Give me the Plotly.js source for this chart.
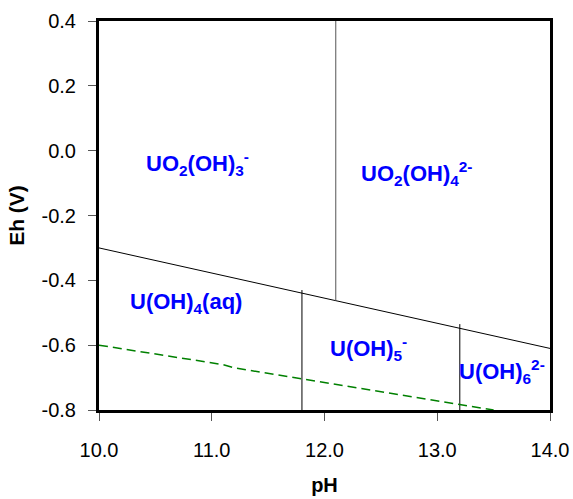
<!DOCTYPE html>
<html>
<head>
<meta charset="utf-8">
<script src="https://cdn.plot.ly/plotly-3.0.1.min.js"></script>
<style>html,body{margin:0;padding:0;background:#fff;}#chart{width:573px;height:499px;}</style>
</head>
<body>
<div id="chart"></div>
<script>
// Boundary between U(VI) and U(IV) species
const pHBoundary = [10, 11.8, 12.1, 13.2, 14];
const ehBoundary = [-0.30, -0.44, -0.463, -0.547, -0.61];
// Vertical boundaries
const pHVertA = [12.1, 12.1];
const ehVertA = [0.4, -0.463];
const pHVertB = [11.8, 11.8];
const ehVertB = [-0.43, -0.8];
const pHVertC = [13.2, 13.2];
const ehVertC = [-0.535, -0.8];
// Water stability (lower) line
const pHWater = [10, 11.1, 11.2, 13.5];
const ehWater = [-0.60, -0.66, -0.67, -0.80];
// Tick labels
const xTickVals = [10, 11, 12, 13, 14];
const xTickText = ['10.0', '11.0', '12.0', '13.0', '14.0'];
const yTickVals = [0.4, 0.2, 0.0, -0.2, -0.4, -0.6, -0.8];
const yTickText = ['0.4', '0.2', '0.0', '-0.2', '-0.4', '-0.6', '-0.8'];
// Species labels
const speciesLabels = [
  'UO<sub>2</sub>(OH)<sub>3</sub><sup>-</sup>',
  'UO<sub>2</sub>(OH)<sub>4</sub><sup>2-</sup>',
  'U(OH)<sub>4</sub>(aq)',
  'U(OH)<sub>5</sub><sup>-</sup>',
  'U(OH)<sub>6</sub><sup>2-</sup>'
];

const FONT = 'Liberation Sans, Arial, sans-serif';
const thin = {color: '#000', width: 1};

const traces = [
  {x: pHBoundary, y: ehBoundary, mode: 'lines', line: thin, hoverinfo: 'skip'},
  {x: pHVertA, y: ehVertA, mode: 'lines', line: {color: '#555', width: 1}, hoverinfo: 'skip'},
  {x: pHVertB, y: ehVertB, mode: 'lines', line: thin, hoverinfo: 'skip'},
  {x: pHVertC, y: ehVertC, mode: 'lines', line: thin, hoverinfo: 'skip'},
  {x: pHWater, y: ehWater, mode: 'lines', line: {color: '#008000', width: 1.5, dash: '9px,5px'}, hoverinfo: 'skip'}
];

const labelPos = [[10.87, -0.04], [12.82, -0.07], [10.77, -0.47], [12.39, -0.61], [13.57, -0.68]];
const annotations = speciesLabels.map((t, i) => ({
  x: labelPos[i][0], y: labelPos[i][1], xref: 'x', yref: 'y', text: '<b>' + t + '</b>',
  showarrow: false, font: {family: FONT, size: 22, color: '#0000ff'}
}));

const layout = {
  width: 573, height: 499,
  margin: {l: 99, r: 23, t: 21, b: 89},
  paper_bgcolor: '#fff', plot_bgcolor: '#fff',
  showlegend: false,
  font: {family: FONT, color: '#000'},
  xaxis: {
    range: [10, 14], tickvals: xTickVals, ticktext: xTickText,
    ticks: 'outside', ticklen: 8, tickwidth: 1, tickcolor: '#555',
    showline: true, linecolor: '#000', linewidth: 3, mirror: true,
    showgrid: false, zeroline: false, ticklabelstandoff: 12,
    tickfont: {family: FONT, size: 20, color: '#000'},
    title: {text: '<b>pH</b>', font: {family: FONT, size: 20, color: '#000'}, standoff: 18}
  },
  yaxis: {
    range: [-0.8, 0.4], tickvals: yTickVals, ticktext: yTickText,
    ticks: 'outside', ticklen: 8, tickwidth: 1, tickcolor: '#555',
    showline: true, linecolor: '#000', linewidth: 3, mirror: true,
    showgrid: false, zeroline: false, ticklabelstandoff: 8,
    tickfont: {family: FONT, size: 20, color: '#000'},
    title: {text: '<b>Eh (V)</b>', font: {family: FONT, size: 21, color: '#000'}, standoff: 12}
  },
  annotations: annotations
};

Plotly.newPlot('chart', traces, layout, {displayModeBar: false, staticPlot: true});
</script>
</body>
</html>
